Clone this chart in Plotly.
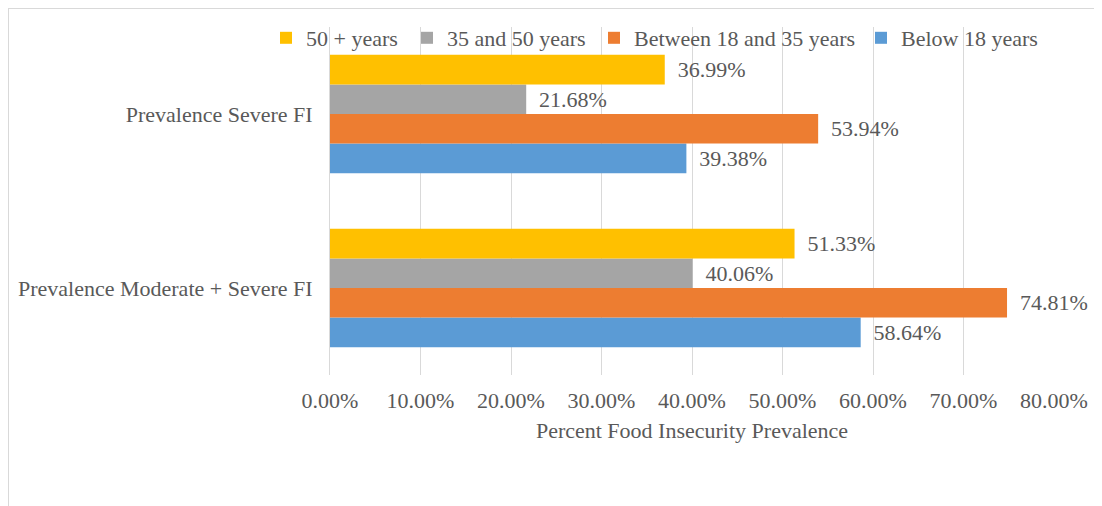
import plotly.graph_objects as go

categories = ["Prevalence Moderate + Severe FI", "Prevalence Severe FI"]
series_names = ["Below 18 years", "Between 18 and 35 years", "35 and 50 years", "50 + years"]
below_18 = [58.64, 39.38]
between_18_35 = [74.81, 53.94]
between_35_50 = [40.06, 21.68]
above_50 = [51.33, 36.99]
colors = ["#5B9BD5", "#ED7D31", "#A5A5A5", "#FFC000"]
legend_ids = ["legend4", "legend3", "legend2", "legend"]
legend_left_px = [875, 608, 421, 280]   # screen x of each legend square (left edge)

FONT = "Liberation Serif"
TXT = "#595959"
FS = 22
L, T, W, H = 322, 19, 724, 348

fig = go.Figure()
for name, vals, col, lg in zip(series_names, [below_18, between_18_35, between_35_50, above_50], colors, legend_ids):
    fig.add_trace(go.Bar(
        name=name, y=categories, x=[v / 100 for v in vals], orientation="h",
        marker=dict(color=col, line=dict(width=0)), legend=lg,
        text=["\u00a0\u2009%.2f%%" % v for v in vals], textposition="outside",
        textfont=dict(family=FONT, size=FS, color=TXT), cliponaxis=False,
    ))

legends = {}
for lg, px in zip(legend_ids, legend_left_px):
    legends[lg] = dict(orientation="h", x=(px - 8 - 14 - L) / W, y=1 + (T - 30) / H,
                       xanchor="left", yanchor="middle", bgcolor="rgba(0,0,0,0)",
                       font=dict(family=FONT, size=FS, color=TXT))

fig.update_layout(
    width=1102, height=506,
    margin=dict(l=L, r=1102 - L - W, t=T, b=506 - T - H, autoexpand=False),
    paper_bgcolor="white", plot_bgcolor="white",
    barmode="group", bargap=0.32, bargroupgap=0,
    font=dict(family=FONT, size=FS, color=TXT),
    showlegend=True,
    xaxis=dict(range=[0, 0.8], dtick=0.1, tickformat=".2%", showgrid=True, gridcolor="#D9D9D9", gridwidth=1,
               zeroline=False, showline=False, ticks="", ticklabelstandoff=10, automargin=False,
               title=dict(text="Percent Food Insecurity Prevalence", standoff=10,
                          font=dict(family=FONT, size=FS, color=TXT)),
               tickfont=dict(family=FONT, size=FS, color=TXT)),
    yaxis=dict(categoryorder="array", categoryarray=categories, showline=True, linecolor="#D9D9D9", linewidth=1,
               showgrid=False, ticks="", ticklabelstandoff=12, automargin=False,
               tickfont=dict(family=FONT, size=FS, color=TXT)),
    shapes=[dict(type="rect", xref="paper", yref="paper", x0=-L / W, x1=(1102 - L) / W,
                 y0=-(506 - T - H) / H, y1=1 + T / H, line=dict(color="#D9D9D9", width=2),
                 fillcolor="rgba(0,0,0,0)", layer="below")],
    **legends,
)

fig.write_html("out.html")
